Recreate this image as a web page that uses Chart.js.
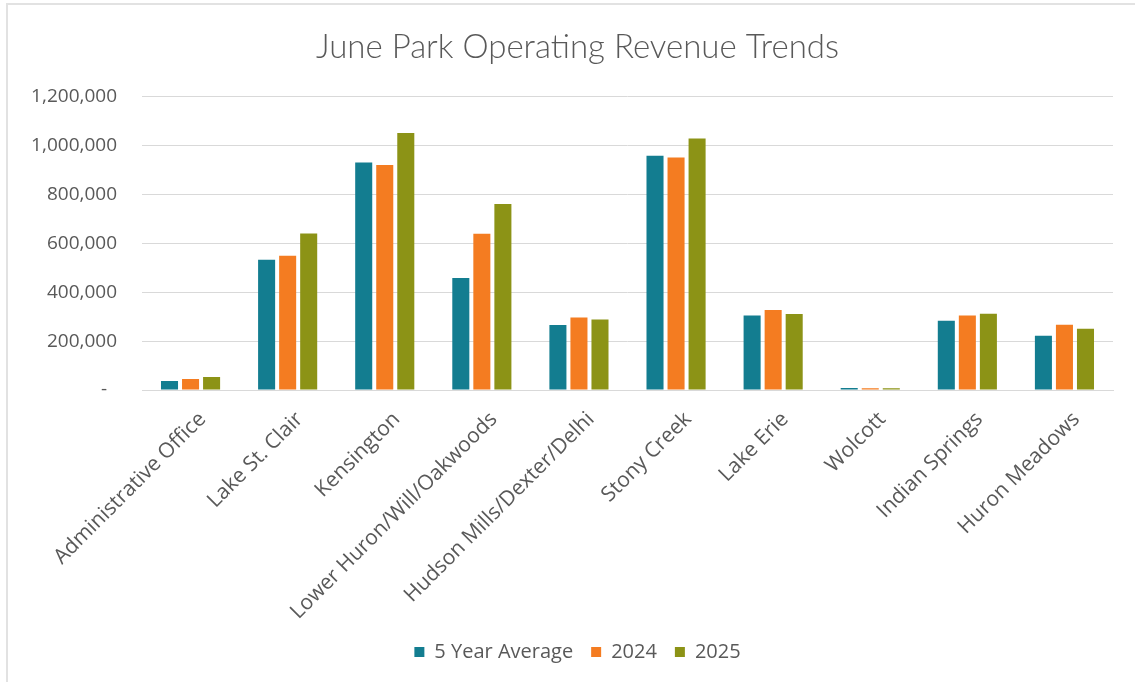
<!DOCTYPE html>
<html>
<head>
<meta charset="utf-8">
<title>June Park Operating Revenue Trends</title>
<script src="https://cdn.jsdelivr.net/npm/chart.js@4/dist/chart.umd.min.js"></script>
<style>
  html, body { margin: 0; padding: 0; background: #ffffff; }
  #frame {
    position: absolute; left: 0; top: 0; width: 1135px; height: 682px;
    box-sizing: border-box;
    border-top: 2px solid #e2e2e2; border-left: 2px solid #e2e2e2;
    margin: 3px 0 0 6px;
  }
  #wrap { position: absolute; left: 0; top: 0; width: 1135px; height: 682px; }
</style>
</head>
<body>
<div id="frame"></div>
<div id="wrap"><canvas id="chart" width="1135" height="682"></canvas></div>
<script>
// Parks shown along the x axis
const parks = [
  "Administrative Office", "Lake St. Clair", "Kensington",
  "Lower Huron/Will/Oakwoods", "Hudson Mills/Dexter/Delhi", "Stony Creek",
  "Lake Erie", "Wolcott", "Indian Springs", "Huron Meadows"
];

// June operating revenue per park
const fiveYearAverage = [37000, 533000, 930000, 458000, 266000, 958000, 305000, 8000, 283000, 222000];
const rev2024 = [45000, 549000, 920000, 639000, 297000, 951000, 327000, 7000, 305000, 267000];
const rev2025 = [53000, 640000, 1051000, 761000, 288000, 1029000, 311000, 7000, 312000, 251000];

const seriesNames = ["5 Year Average", "2024", "2025"];
const yTicks = [0, 200000, 400000, 600000, 800000, 1000000, 1200000];

const teal = "#137d90";
const orange = "#f47c21";
const olive = "#8c9316";
const textGrey = "#595959";
const font = "'Open Sans', 'Noto Sans', sans-serif";

// Title and legend sit centred a little right of the canvas middle
const headerShift = {
  id: "headerShift",
  afterLayout(chart) {
    const dx = 8;
    [chart.titleBlock, chart.legend].forEach(b => { if (b) { b.left += dx; b.right += dx; } });
  }
};

new Chart(document.getElementById("chart"), {
  type: "bar",
  data: {
    labels: parks,
    datasets: [
      { label: seriesNames[0], data: fiveYearAverage, backgroundColor: teal },
      { label: seriesNames[1], data: rev2024, backgroundColor: orange },
      { label: seriesNames[2], data: rev2025, backgroundColor: olive }
    ]
  },
  plugins: [headerShift],
  options: {
    responsive: false,
    animation: false,
    datasets: { bar: { categoryPercentage: 0.65, barPercentage: 0.81 } },
    layout: { padding: { left: 26, right: 22, top: 8, bottom: 10 } },
    plugins: {
      title: {
        display: true,
        text: "June Park Operating Revenue Trends",
        color: textGrey,
        font: { family: "Lato, 'Open Sans', sans-serif", size: 33, weight: "300" },
        padding: { top: 20, bottom: 29 }
      },
      legend: {
        position: "bottom",
        labels: {
          color: textGrey,
          font: { family: font, size: 20 },
          boxWidth: 10, boxHeight: 10, padding: 18
        }
      },
      tooltip: { enabled: false }
    },
    scales: {
      x: {
        grid: { display: false },
        border: { color: "#d9d9d9", width: 1 },
        afterFit: (axis) => { axis.height = 234; },
        ticks: {
          color: textGrey, font: { family: font, size: 21 },
          maxRotation: 45, minRotation: 45, autoSkip: false,
          padding: 9, labelOffset: 12
        }
      },
      y: {
        min: 0, max: 1200000,
        afterBuildTicks: (axis) => { axis.ticks = yTicks.map(v => ({ value: v })); },
        afterFit: (axis) => { axis.width = 116; },
        grid: { color: "#d9d9d9", drawTicks: false, lineWidth: 1 },
        border: { display: false },
        ticks: {
          color: textGrey, font: { family: font, size: 19 }, padding: 25,
          callback: (v) => v === 0 ? "-  " : Number(v).toLocaleString("en-US")
        }
      }
    }
  }
});
</script>
</body>
</html>
